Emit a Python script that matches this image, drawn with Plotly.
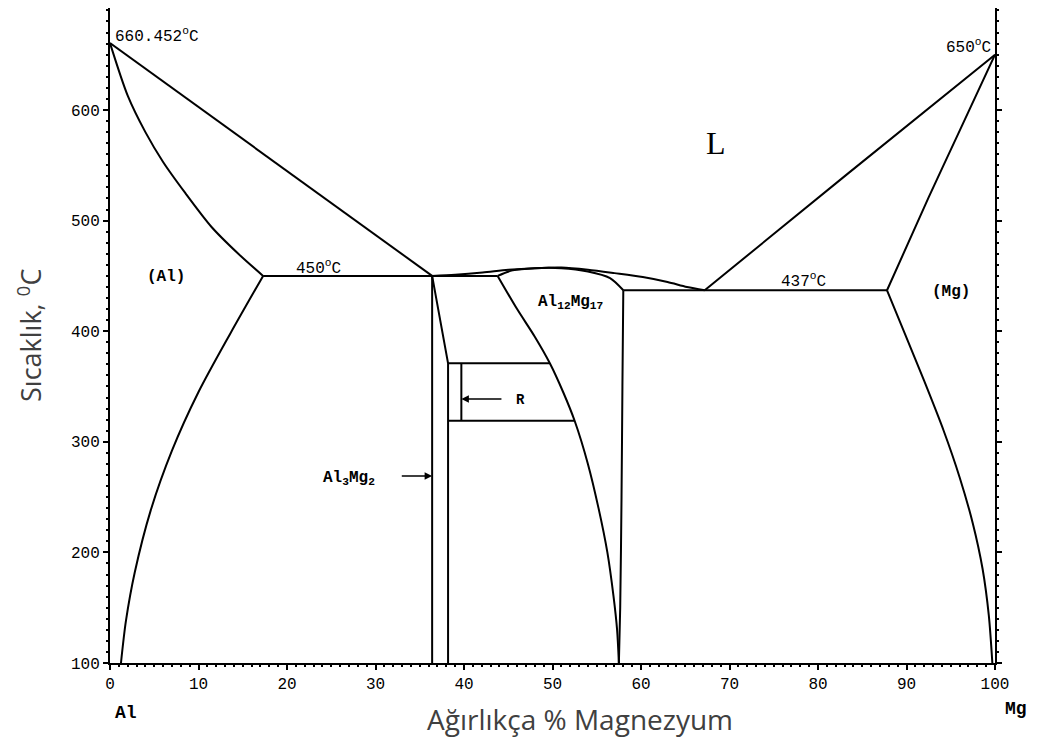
import plotly.graph_objects as go

# ---- phase boundary data (wt% Mg, temperature in °C) ----
al_liquidus_x = [0.0, 36.4]
al_liquidus_y = [660.452, 450]

al_solidus_x = [0.0, 2.0, 4.0, 6.0, 8.5, 11.5, 14.5, 17.3]
al_solidus_y = [660.452, 613, 580, 553, 525, 494, 470, 450]

al_solvus_x = [17.3, 13.6, 10.0, 7.0, 4.6, 2.8, 1.8, 1.24]
al_solvus_y = [450, 398, 345, 292, 238, 182, 138, 100]

eutectic_left_x = [17.3, 43.8]
eutectic_left_y = [450, 450]

al3mg2_left_x = [36.4, 36.4]
al3mg2_left_y = [450, 100]
al3mg2_right_x = [36.4, 38.2, 38.2]
al3mg2_right_y = [450, 371, 100]

r_top_x = [38.2, 49.7]
r_top_y = [371, 371]
r_bot_x = [38.2, 52.5]
r_bot_y = [319, 319]
r_right_x = [39.7, 39.7]
r_right_y = [319, 371]

g_liquidus_x = [36.4, 39.0, 42.1, 45.0, 48.0, 51.0, 54.0, 57.0, 60.2, 63.0, 65.2, 67.2]
g_liquidus_y = [450, 451, 453, 455.5, 457, 457.5, 455.5, 452.5, 449, 444.5, 440, 437]

g_solidus_x = [43.8, 45.5, 48.0, 51.0, 54.0, 56.5, 58.0]
g_solidus_y = [450, 455, 457, 457, 454, 448, 437]

g_left_x = [43.8, 46.0, 48.0, 49.7, 51.2, 52.5, 54.0, 55.2, 56.2, 56.9, 57.3, 57.5]
g_left_y = [450, 420, 395, 371, 345, 319, 280, 240, 200, 160, 130, 100]

g_right_x = [58.0, 57.9, 57.8, 57.65, 57.5]
g_right_y = [437, 350, 250, 150, 100]

eutectic_right_x = [58.0, 87.8]
eutectic_right_y = [437, 437]

mg_liquidus_x = [67.2, 83.3, 100.0]
mg_liquidus_y = [437, 542, 650]

mg_solidus_x = [87.8, 92.5, 96.05, 100.0]
mg_solidus_y = [437, 521, 582, 650]

mg_solvus_x = [87.8, 89.8, 92.0, 94.2, 96.0, 97.5, 98.6, 99.3, 99.7]
mg_solvus_y = [437, 398, 355, 310, 268, 226, 185, 143, 100]

x_ticks = [0, 10, 20, 30, 40, 50, 60, 70, 80, 90, 100]
y_ticks = [100, 200, 300, 400, 500, 600]

curves = [
    (al_solidus_x, al_solidus_y), (al_solvus_x, al_solvus_y),
    (g_liquidus_x, g_liquidus_y), (g_solidus_x, g_solidus_y), (g_left_x, g_left_y), (g_right_x, g_right_y),
    (mg_liquidus_x, mg_liquidus_y), (mg_solidus_x, mg_solidus_y), (mg_solvus_x, mg_solvus_y),
]
straights = [
    (al_liquidus_x, al_liquidus_y), (eutectic_left_x, eutectic_left_y), (al3mg2_left_x, al3mg2_left_y),
    (al3mg2_right_x, al3mg2_right_y), (r_top_x, r_top_y), (r_bot_x, r_bot_y), (r_right_x, r_right_y),
    (eutectic_right_x, eutectic_right_y),
]

fig = go.Figure()
for xs, ys in curves:
    fig.add_trace(go.Scatter(x=xs, y=ys, mode="lines",
                             line=dict(color="black", width=2, shape="spline", smoothing=0.8),
                             showlegend=False, hoverinfo="skip"))
for xs, ys in straights:
    fig.add_trace(go.Scatter(x=xs, y=ys, mode="lines", line=dict(color="black", width=2),
                             showlegend=False, hoverinfo="skip"))

MONO = "Liberation Mono"
lab_font = dict(family=MONO, size=16, color="black")
temp_font = dict(family=MONO, size=16, color="black")
anns = [
    dict(x=6.33, y=449, text="<b>(Al)</b>", font=lab_font),
    dict(x=95.0, y=435, text="<b>(Mg)</b>", font=lab_font),
    dict(x=68.5, y=570, text="L", font=dict(family="Liberation Serif", size=32, color="black")),
    dict(x=52.0, y=426, text="<b>Al<sub>12</sub>Mg<sub>17</sub></b>", font=lab_font),
    dict(x=23.6, y=457.5, text="450<sup>o</sup>C", font=temp_font),
    dict(x=78.4, y=445.5, text="437<sup>o</sup>C", font=temp_font),
    dict(x=0.3, y=667, text="660.452<sup>o</sup>C", xanchor="left", font=temp_font),
    dict(x=99.8, y=657, text="650<sup>o</sup>C", xanchor="right", font=temp_font),
    dict(x=26.95, y=267, text="<b>Al<sub>3</sub>Mg<sub>2</sub></b>", font=lab_font),
    dict(x=46.4, y=338, text="<b>R</b>", font=dict(family=MONO, size=14, color="black")),
]
for a in anns:
    a.setdefault("xanchor", "center")
    fig.add_annotation(xref="x", yref="y", showarrow=False, **a)

# arrows
fig.add_annotation(x=36.4, y=269, ax=32.8, ay=269, xref="x", yref="y", axref="x", ayref="y",
                   showarrow=True, arrowhead=2, arrowsize=1, arrowwidth=1.5, arrowcolor="black", text="")
fig.add_annotation(x=39.7, y=338.7, ax=44.4, ay=338.7, xref="x", yref="y", axref="x", ayref="y",
                   showarrow=True, arrowhead=2, arrowsize=1, arrowwidth=1.5, arrowcolor="black", text="")

# paper annotations: axis titles and element names
fig.add_annotation(xref="paper", yref="paper", x=0.0182, y=-0.076, text="<b>Al</b>", showarrow=False,
                   font=dict(family=MONO, size=18, color="black"), xanchor="center", yanchor="middle")
fig.add_annotation(xref="paper", yref="paper", x=1.024, y=-0.07, text="<b>Mg</b>", showarrow=False,
                   font=dict(family=MONO, size=18, color="black"), xanchor="center", yanchor="middle")
fig.add_annotation(xref="paper", yref="paper", x=0.531, y=-0.086, text="Ağırlıkça % Magnezyum", showarrow=False,
                   font=dict(family="Open Sans", size=28, color="#404040"), xanchor="center", yanchor="middle")
fig.add_annotation(xref="paper", yref="paper", x=-0.091, y=0.5, text="Sıcaklık, <sup>0</sup>C", showarrow=False,
                   textangle=-90, font=dict(family="Open Sans", size=27, color="#404040"),
                   xanchor="center", yanchor="middle")

tick_font = dict(family=MONO, size=16, color="black")
fig.update_xaxes(range=[0, 100], tickvals=x_ticks, ticktext=[str(v) for v in x_ticks], ticks="outside", ticklen=5,
                 tickwidth=1.5, tickcolor="black", showline=True, linecolor="black", linewidth=2, showgrid=False,
                 zeroline=False, tickfont=tick_font,
                 minor=dict(dtick=1, ticks="outside", ticklen=2, tickcolor="black"))
fig.update_yaxes(range=[100, 692.2], tickvals=y_ticks, ticktext=[str(v) for v in y_ticks], ticks="outside", ticklen=5,
                 tickwidth=1.5, tickcolor="black", showline=True, linecolor="black", linewidth=2, showgrid=False,
                 zeroline=False, mirror="ticks", tickfont=tick_font,
                 minor=dict(dtick=10, ticks="outside", ticklen=2, tickcolor="black"))

# the page body has an 8px margin, so the figure margins are offset to place the plot area as in the reference
fig.update_layout(width=1040, height=743, margin=dict(l=102, r=53, t=0, b=88, autoexpand=False),
                  plot_bgcolor="white", paper_bgcolor="white")

fig.write_html("out.html")
